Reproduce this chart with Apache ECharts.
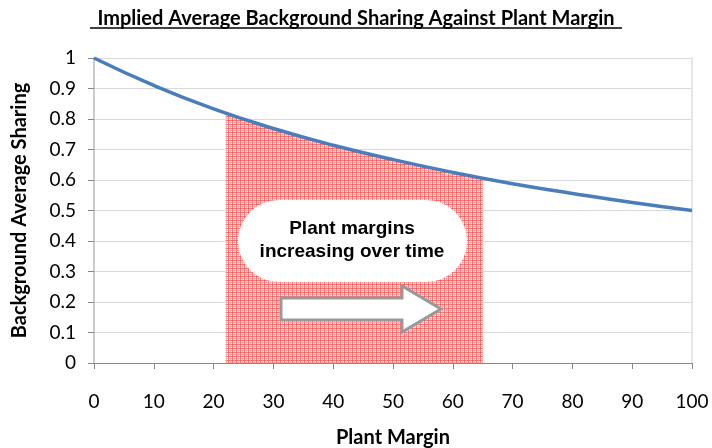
<!DOCTYPE html>
<html>
<head>
<meta charset="utf-8">
<script src="https://cdn.jsdelivr.net/npm/echarts@6/dist/echarts.min.js"></script>
<style>
  html, body { margin: 0; padding: 0; background: #fff; }
  #chart { width: 712px; height: 448px; }
</style>
</head>
<body>
<div id="chart"></div>
<script>
// curve, x = plant margin
const margins = [0, 10, 20, 30, 40, 50, 60, 70, 80, 90, 100]
const sharing = [1, 0.91, 0.833, 0.769, 0.714, 0.667, 0.625, 0.588, 0.556, 0.526, 0.5]
// shaded band under the curve
const bandMargins = [22, 30, 40, 50, 60, 65]
const bandSharing = [0.82, 0.769, 0.714, 0.667, 0.625, 0.606]
const yTicks = [0, 0.1, 0.2, 0.3, 0.4, 0.5, 0.6, 0.7, 0.8, 0.9, 1]

const font = 'Lato, "Open Sans", sans-serif'

// red plaid fill for the band
function makePattern() {
  const c = document.createElement('canvas')
  c.width = 4
  c.height = 4
  const ctx = c.getContext('2d')
  ctx.fillStyle = '#fff0f0'
  ctx.fillRect(0, 0, 4, 4)
  ctx.fillStyle = 'rgba(240, 70, 70, 0.7)'
  ctx.fillRect(0, 0, 1, 4)
  ctx.fillRect(0, 0, 4, 1)
  ctx.fillStyle = 'rgba(250, 130, 130, 0.45)'
  ctx.fillRect(2, 0, 1, 4)
  ctx.fillRect(0, 2, 4, 1)
  return c
}

const chart = echarts.init(document.getElementById('chart'))

chart.setOption({
  animation: false,
  title: {
    text: 'Implied Average Background Sharing Against Plant Margin',
    left: 'center',
    top: 4,
    textStyle: {
      fontFamily: font,
      fontSize: 20,
      fontWeight: 'bold',
      color: '#000'
    }
  },
  grid: {
    left: 94,
    right: 20,
    top: 58,
    bottom: 85,
    outerBoundsMode: 'none'
  },
  xAxis: {
    type: 'value',
    min: 0,
    max: 100,
    interval: 10,
    name: 'Plant Margin',
    nameLocation: 'middle',
    nameGap: 65,
    nameTextStyle: {
      fontFamily: font,
      fontSize: 20,
      fontWeight: 'bold',
      color: '#000'
    },
    axisLine: { lineStyle: { color: '#888', width: 1 } },
    axisTick: { show: true, length: 6, lineStyle: { color: '#888' } },
    axisLabel: {
      fontFamily: font,
      fontSize: 19,
      color: '#000',
      margin: 29
    },
    splitLine: { show: false }
  },
  yAxis: [{
    type: 'value',
    min: 0,
    max: 1,
    interval: 0.1,
    name: 'Background Average Sharing',
    nameLocation: 'middle',
    nameGap: 64,
    nameRotate: 90,
    nameTextStyle: {
      fontFamily: font,
      fontSize: 20,
      fontWeight: 'bold',
      color: '#000'
    },
    axisLine: { show: true, lineStyle: { color: '#bbb', width: 1.5 } },
    axisTick: { show: true, length: 6, lineStyle: { color: '#888' } },
    axisLabel: {
      fontFamily: font,
      fontSize: 19,
      color: '#000',
      margin: 18,
      formatter: v => yTicks.includes(+v.toFixed(1)) ? String(+v.toFixed(1)) : ''
    },
    splitLine: { show: true, lineStyle: { color: '#d9d9d9', width: 1 } }
  }, {
    type: 'value',
    min: 0,
    max: 1,
    position: 'right',
    axisLine: { show: true, lineStyle: { color: '#e6e6e6', width: 2 } },
    axisTick: { show: false },
    axisLabel: { show: false },
    splitLine: { show: false }
  }],
  series: [{
    type: 'line',
    data: bandMargins.map((m, i) => [m, bandSharing[i]]),
    smooth: true,
    symbol: 'none',
    lineStyle: { width: 0 },
    areaStyle: {
      color: { image: makePattern(), repeat: 'repeat' },
      opacity: 1
    },
    z: 1
  }, {
    type: 'line',
    data: margins.map((m, i) => [m, sharing[i]]),
    smooth: true,
    symbol: 'none',
    lineStyle: { color: '#4a7ebb', width: 3.5 },
    z: 3
  }],
  graphic: [
    {
      type: 'line',
      shape: { x1: 90, y1: 28, x2: 622, y2: 28 },
      style: { stroke: '#000', lineWidth: 1.3 }
    },
    {
      type: 'rect',
      shape: { x: 238, y: 200, width: 229, height: 82, r: 41 },
      style: { fill: '#fff', stroke: null },
      z: 10
    },
    {
      type: 'text',
      x: 352,
      y: 240,
      style: {
        text: 'Plant margins\nincreasing over time',
        fontFamily: 'Liberation Sans, Arial, sans-serif',
        fontSize: 19,
        fontWeight: 'bold',
        fill: '#000',
        align: 'center',
        verticalAlign: 'middle',
        lineHeight: 23
      },
      z: 11
    },
    {
      type: 'polygon',
      shape: {
        points: [[281, 298], [402, 298], [402, 286], [441, 309], [402, 332], [402, 320], [281, 320]]
      },
      style: { fill: '#fff', stroke: '#999', lineWidth: 3 },
      z: 10
    }
  ]
})
</script>
</body>
</html>
